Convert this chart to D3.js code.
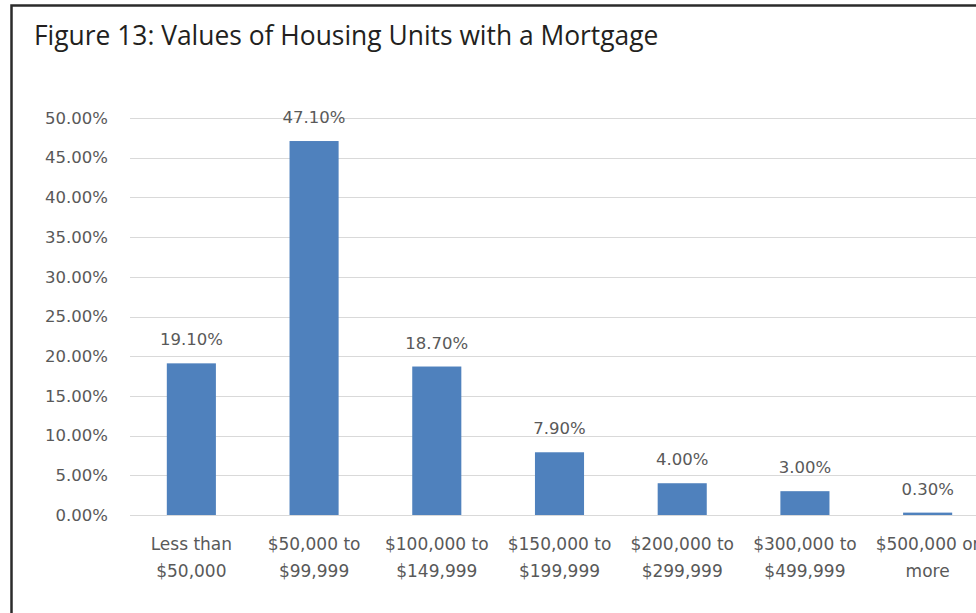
<!DOCTYPE html>
<html>
<head>
<meta charset="utf-8">
<script src="https://cdn.jsdelivr.net/npm/d3@7"></script>
<style>
  html, body { margin: 0; padding: 0; background: #fff; overflow: hidden; }
  #canvas { width: 976px; height: 613px; }
</style>
</head>
<body>
<div id="canvas"></div>
<script>
var title = 'Figure 13: Values of Housing Units with a Mortgage';
var categories = [
  ['Less than', '$50,000'],
  ['$50,000 to', '$99,999'],
  ['$100,000 to', '$149,999'],
  ['$150,000 to', '$199,999'],
  ['$200,000 to', '$299,999'],
  ['$300,000 to', '$499,999'],
  ['$500,000 or', 'more']
];
var values = [0.191, 0.471, 0.187, 0.079, 0.04, 0.03, 0.003];
var yTicks = [0, 0.05, 0.10, 0.15, 0.20, 0.25, 0.30, 0.35, 0.40, 0.45, 0.50];

var textColor = '#595959';
var barColor = '#4f81bd';
var gridColor = '#d9d9d9';

var svg = d3.select('#canvas').append('svg')
  .attr('width', 976)
  .attr('height', 613);

// frame (only top and left edges visible in the crop)
svg.append('rect')
  .attr('x', 11.5).attr('y', 5.5)
  .attr('width', 1100).attr('height', 700)
  .attr('fill', 'none')
  .attr('stroke', '#2b2b2b')
  .attr('stroke-width', 2.5);

svg.append('text')
  .attr('x', 34).attr('y', 45)
  .attr('font-family', 'Open Sans, sans-serif')
  .attr('font-size', 26.4)
  .attr('fill', '#231f20')
  .text(title);

var x = d3.scaleBand()
  .domain(d3.range(categories.length))
  .range([130, 989])
  .paddingInner(0.6)
  .paddingOuter(0.3);

var y = d3.scaleLinear()
  .domain([0, 0.5])
  .range([515, 118]);

var fmt = d3.format('.2%');

// gridlines
svg.append('g').selectAll('line')
  .data(yTicks)
  .enter().append('line')
  .attr('x1', 130).attr('x2', 976)
  .attr('y1', function(d) { return Math.round(y(d)) + 0.5; })
  .attr('y2', function(d) { return Math.round(y(d)) + 0.5; })
  .attr('stroke', gridColor)
  .attr('stroke-width', 1);

// y axis labels
var yAxis = svg.append('g')
  .attr('transform', 'translate(130,0)')
  .call(d3.axisLeft(y).tickValues(yTicks).tickFormat(fmt).tickSize(0).tickPadding(22));
yAxis.select('.domain').remove();
yAxis.selectAll('text')
  .attr('font-family', 'DejaVu Sans, sans-serif')
  .attr('font-size', 16.5)
  .attr('fill', textColor);

// bars
svg.append('g').selectAll('rect')
  .data(values)
  .enter().append('rect')
  .attr('x', function(d, i) { return x(i); })
  .attr('y', function(d) { return y(d); })
  .attr('width', x.bandwidth())
  .attr('height', function(d) { return y(0) - y(d); })
  .attr('fill', barColor);

// data labels
svg.append('g').selectAll('text')
  .data(values)
  .enter().append('text')
  .attr('x', function(d, i) { return x(i) + x.bandwidth() / 2; })
  .attr('y', function(d) { return y(d) - 18; })
  .attr('text-anchor', 'middle')
  .attr('font-family', 'DejaVu Sans, sans-serif')
  .attr('font-size', 16.5)
  .attr('fill', textColor)
  .text(function(d) { return fmt(d); });

// category labels
var cat = svg.append('g').selectAll('text')
  .data(categories)
  .enter().append('text')
  .attr('text-anchor', 'middle')
  .attr('font-family', 'DejaVu Sans, sans-serif')
  .attr('font-size', 17)
  .attr('fill', textColor);
cat.each(function(d, i) {
  var t = d3.select(this);
  d.forEach(function(line, j) {
    t.append('tspan')
      .attr('x', x(i) + x.bandwidth() / 2)
      .attr('y', 550 + j * 27)
      .text(line);
  });
});
</script>
</body>
</html>
